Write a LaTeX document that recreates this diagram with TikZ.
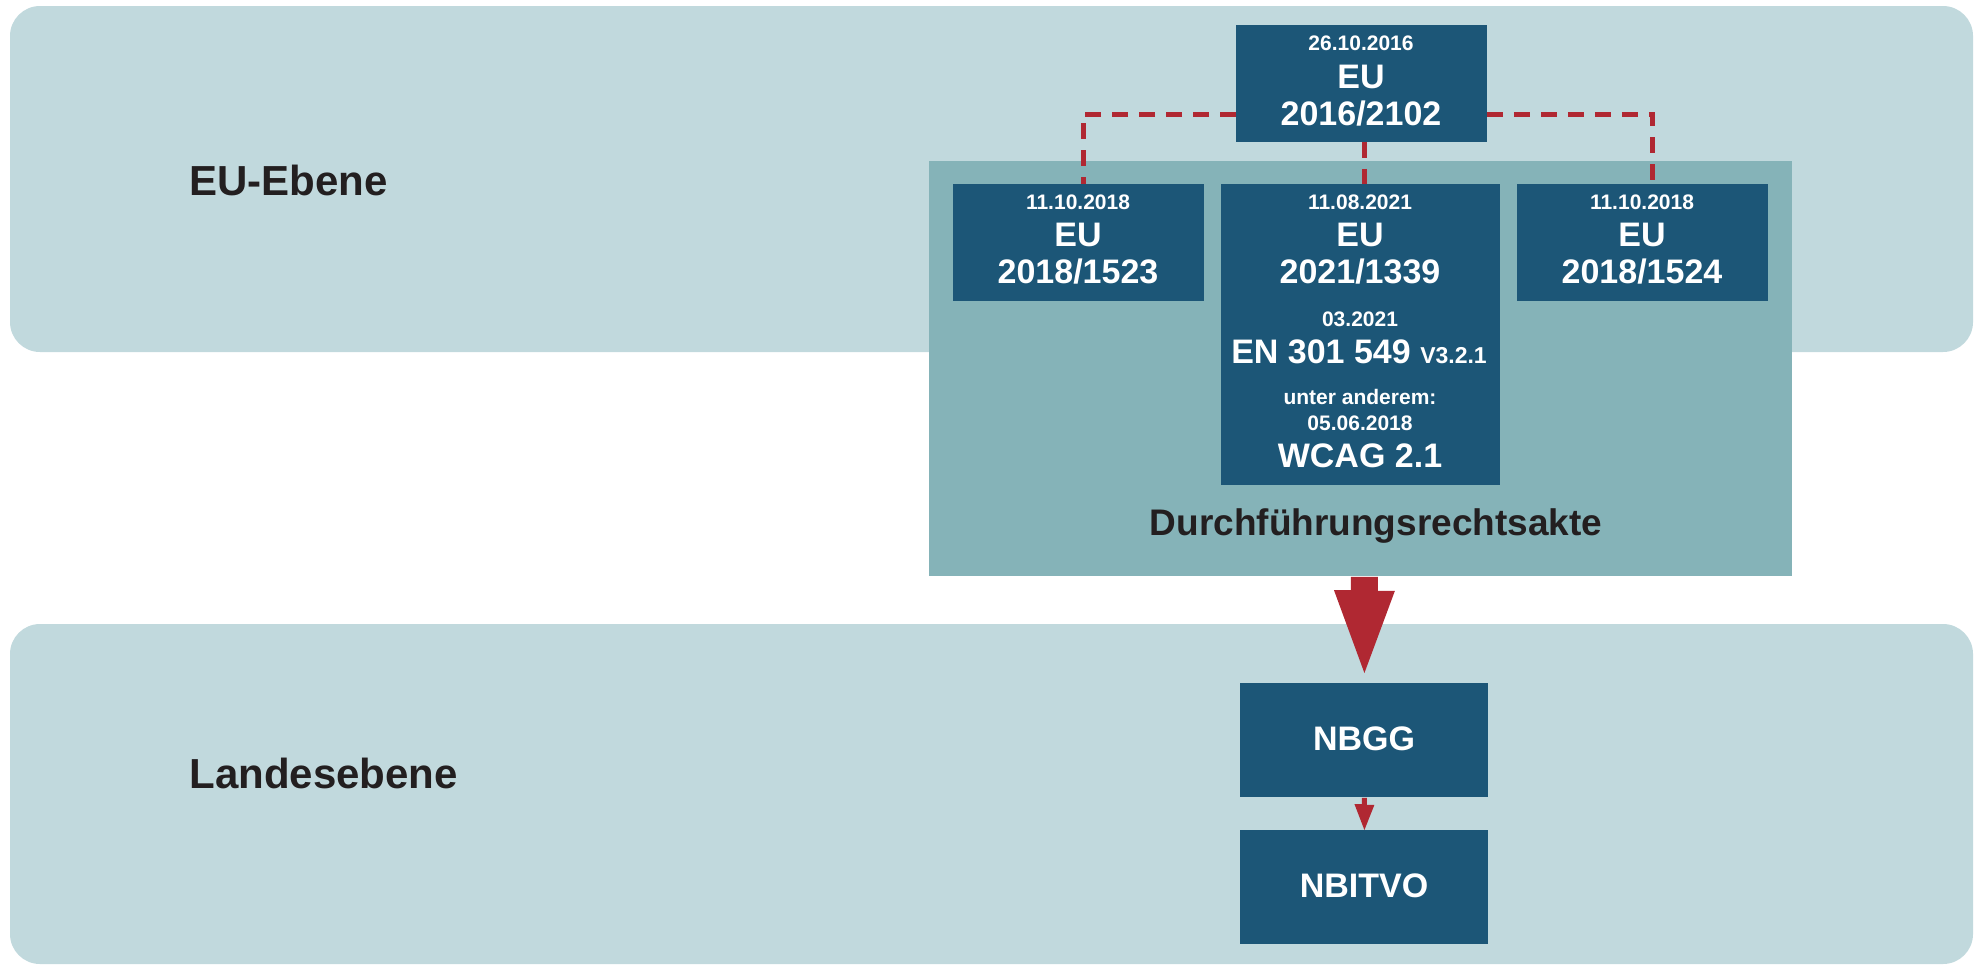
\documentclass[tikz,border=0pt]{standalone}
\usepackage{fontspec}
\setmainfont{Liberation Sans}
\usetikzlibrary{arrows.meta,calc}
\definecolor{bandc}{HTML}{C1D9DD}
\definecolor{tealc}{HTML}{85B3B8}
\definecolor{boxc}{HTML}{1C5677}
\definecolor{redc}{HTML}{B02832}
\definecolor{txtc}{HTML}{231F20}
\newcommand\myfs[1]{\fontsize{#1}{#1}\selectfont}
\begin{document}
\begin{tikzpicture}[x=0.5pt,y=-0.5pt,
  band/.style={fill=bandc, rounded corners=15pt},
  tealbox/.style={fill=tealc, draw=none, inner sep=0pt, anchor=north west, minimum width=431.5pt, minimum height=207.5pt},
  dbox/.style={fill=boxc, draw=none, inner sep=0pt, anchor=north west},
  smallbox/.style={dbox, minimum width=125pt, minimum height=58pt},
  landbox/.style={dbox, minimum width=124pt, minimum height=57pt},
  big/.style={text=white, font=\bfseries\myfs{17}, inner sep=0pt, anchor=base},
  sml/.style={text=white, font=\bfseries\myfs{10.5}, inner sep=0pt, anchor=base},
  lvl/.style={text=txtc, font=\bfseries\myfs{21}, inner sep=0pt, anchor=base west},
  dashline/.style={draw=redc, line width=2.5pt, dash pattern=on 8pt off 5.5pt},
  arrowfill/.style={fill=redc, draw=none}
]
\useasboundingbox (0,0) rectangle (1980,965);
% bands
\fill[band] (10,6) rectangle (1973,352);
\fill[band] (10,624) rectangle (1973,964);
% teal area
\node[tealbox] (teal) at (929,161) {};
% boxes
\node[smallbox] (top) at (1236,25) {};
\node[smallbox] (lbox) at (953,184) {};
\node[dbox, minimum width=139pt, minimum height=150pt] (mbox) at (1221,184) {};
\node[smallbox] (rbox) at (1517,184) {};
\node[landbox] (nbgg) at (1240,683) {};
\node[landbox] (nbitvo) at (1240,830) {};
% dashed connectors
\draw[dashline] ($(top.north west)+(0,89)$) -| ($(lbox.north)+(5,0)$);
\draw[dashline] ($(top.north east)+(0,89)$) -| ($(rbox.north)+(10,0)$);
\draw[dashline] ($(top.south)+(3,0)$) -- ($(mbox.north)+(4,0)$);
% redraw boxes on top of dashes
\fill[boxc] (top.north west) rectangle (top.south east);
\fill[boxc] (lbox.north west) rectangle (lbox.south east);
\fill[boxc] (mbox.north west) rectangle (mbox.south east);
\fill[boxc] (rbox.north west) rectangle (rbox.south east);
% level labels
\node[lvl] (eu) at (189,195) {EU-Ebene};
\node[lvl] (land) at (189,788) {Landesebene};
% top box texts
\node[sml] (t1) at (1361,50) {26.10.2016};
\node[big] (t2) at (1361,88) {EU};
\node[big] (t3) at (1361,125) {2016/2102};
% left box
\node[sml] (l1) at (1078,209) {11.10.2018};
\node[big] (l2) at (1078,246) {EU};
\node[big] (l3) at (1078,283) {2018/1523};
% right box
\node[sml] (r1) at (1642,209) {11.10.2018};
\node[big] (r2) at (1642,246) {EU};
\node[big] (r3) at (1642,283) {2018/1524};
% middle box
\node[sml] (m1) at (1360,209) {11.08.2021};
\node[big] (m2) at (1360,246) {EU};
\node[big] (m3) at (1360,283) {2021/1339};
\node[sml] (m4) at (1360,326) {03.2021};
\node[big] (m5) at (1359,363) {EN 301 549 {\myfs{11.5}V3.2.1}};
\node[sml] (m6) at (1360,404) {unter anderem:};
\node[sml] (m7) at (1360,430) {05.06.2018};
\node[big] (m8) at (1360,467) {WCAG 2.1};
% Durchfuehrungsrechtsakte
\node[text=txtc, font=\bfseries\myfs{18.5}, inner sep=0pt, anchor=base] (durch) at (1376,535) {Durchführungsrechtsakte};
% land boxes text
\node[big] (n1) at (1364,750) {NBGG};
\node[big] (n2) at (1364,897) {NBITVO};
% big arrow: teal area -> NBGG
\fill[arrowfill] ($(teal.south -| nbgg.north)+(-13.5,0)$) -- ++(27,0) -- ++(0,14) -- ++(17,0)
  -- ($(nbgg.north)+(0,-10)$) -- ++(-30.5,-83) -- ++(17,0) -- cycle;
% small arrow: NBGG -> NBITVO
\fill[arrowfill] ($(nbgg.south)+(-2.5,0)$) -- ++(5,0) -- ++(0,7) -- ++(7.5,0)
  -- (nbitvo.north) -- ++(-10,-26) -- ++(7.5,0) -- cycle;
\end{tikzpicture}
\end{document}
